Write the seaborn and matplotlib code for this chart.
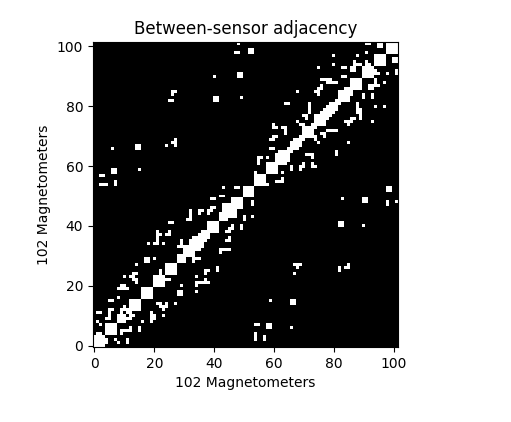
import numpy as np
import seaborn as sns
import matplotlib
matplotlib.use("Agg")
import matplotlib.pyplot as plt

n_sensors = 102
axis_label = "102 Magnetometers"
tick_values = [0, 20, 40, 60, 80, 100]

# runs of neighbouring sensors that are all connected (first, last)
sensor_groups = [(0, 3), (4, 7), (12, 15), (16, 19), (20, 23), (24, 27), (28, 30), (30, 33),
                 (34, 35), (36, 37), (38, 41), (42, 44), (46, 49), (50, 53), (54, 57),
                 (58, 61), (62, 65), (70, 73), (74, 77), (82, 85), (86, 89), (90, 93),
                 (94, 97), (98, 101)]

# single connections close to the diagonal
low_links = [(1, 4), (2, 4), (2, 7), (1, 8), (1, 11), (2, 11), (4, 9), (5, 9), (5, 10), (5, 11),
             (5, 12), (6, 12), (5, 15), (6, 15), (8, 9), (8, 10), (9, 10), (9, 11), (9, 12),
             (10, 12), (10, 13), (11, 12), (8, 16), (8, 19), (9, 19), (10, 19), (11, 19),
             (9, 20), (10, 20), (10, 23), (12, 23), (13, 23), (13, 22), (14, 22), (14, 21),
             (13, 24), (14, 24), (14, 27), (22, 24), (22, 25), (17, 28), (18, 28), (17, 29),
             (18, 29), (20, 29), (28, 33), (29, 33), (29, 34), (29, 35), (18, 34), (20, 34),
             (21, 34), (23, 34), (21, 35), (21, 36), (21, 37), (21, 38), (22, 37), (24, 37),
             (25, 37), (25, 38), (25, 41), (26, 41), (32, 34), (33, 34), (32, 35), (33, 35),
             (33, 36), (34, 36), (35, 36), (35, 37), (36, 38), (37, 38), (31, 42), (32, 42),
             (32, 43), (32, 44), (32, 45), (35, 44), (35, 45), (36, 45), (38, 44), (38, 45),
             (39, 45), (39, 46), (40, 46), (39, 49), (40, 49), (42, 50), (43, 50), (43, 45),
             (44, 45), (43, 46), (44, 46), (45, 46), (43, 47), (44, 47), (45, 47)]

high_links = [(54, 58), (55, 61), (55, 62), (55, 63), (56, 63), (58, 63), (61, 62), (61, 63),
              (61, 64), (59, 66), (60, 66), (59, 69), (60, 69), (60, 70), (61, 70), (60, 73),
              (61, 73), (60, 74), (63, 73), (64, 73), (64, 72), (64, 71), (64, 81), (65, 81),
              (65, 66), (66, 67), (66, 68), (67, 68), (67, 69), (68, 69), (69, 70), (73, 74),
              (68, 75), (69, 74), (70, 74), (70, 77), (71, 76), (71, 77), (72, 78), (72, 79),
              (72, 80), (72, 81), (76, 78), (77, 78), (77, 79), (78, 79), (78, 80), (79, 80),
              (79, 81), (80, 81), (81, 82), (68, 85), (74, 85), (75, 84), (75, 85), (75, 86),
              (76, 86), (76, 87), (75, 93), (76, 89), (77, 89), (78, 89), (79, 89), (78, 88),
              (79, 88), (80, 88), (81, 88), (80, 94), (80, 97), (83, 90), (84, 90), (83, 93),
              (84, 93), (84, 86), (85, 86), (86, 92), (87, 92), (86, 93), (87, 93), (87, 94),
              (87, 95), (88, 94), (89, 94), (88, 97), (91, 94), (91, 95), (92, 94), (91, 98),
              (91, 101), (92, 101), (95, 100), (96, 100), (95, 101), (96, 101)]

# connections far from the diagonal
far_links = [(2, 54), (3, 54), (4, 54), (2, 57), (3, 57), (7, 54), (7, 55), (6, 58), (6, 59),
             (7, 58), (7, 59), (15, 59), (6, 66), (14, 66), (14, 67), (15, 66), (15, 67),
             (24, 67), (27, 67), (26, 68), (27, 68), (27, 69), (25, 82), (26, 82), (40, 82),
             (41, 82), (40, 83), (41, 83), (49, 83), (26, 84), (26, 85), (27, 85), (40, 90),
             (48, 90), (49, 90), (48, 91), (49, 91), (47, 98), (48, 98), (48, 101), (43, 53),
             (47, 53), (48, 53), (44, 38), (45, 38), (49, 39), (49, 40), (52, 98), (53, 98),
             (52, 99), (53, 99)]


def build_adjacency():
    adj = np.eye(n_sensors)
    for first, last in sensor_groups:
        adj[first:last + 1, first:last + 1] = 1
    for a, b in low_links + high_links + far_links:
        adj[a, b] = 1
        adj[b, a] = 1
    return adj


fig = plt.figure(figsize=(5.11, 4.22), dpi=100)
ax = fig.add_axes([93 / 511, 75 / 422, 305 / 511, 305 / 422])

sns.heatmap(build_adjacency(), cmap="gray", vmin=0, vmax=1, cbar=False, ax=ax,
            xticklabels=False, yticklabels=False, rasterized=True)
ax.invert_yaxis()
ax.set_xticks([t + 0.5 for t in tick_values])
ax.set_xticklabels(tick_values, rotation=0)
ax.set_yticks([t + 0.5 for t in tick_values])
ax.set_yticklabels(tick_values, rotation=0)
ax.tick_params(length=3.5, width=0.8, labelsize=10)
for spine in ax.spines.values():
    spine.set_visible(True)
    spine.set_linewidth(0.8)

ax.set_xlabel(axis_label, fontsize=10)
ax.set_ylabel(axis_label, fontsize=10)
ax.set_title("Between-sensor adjacency", fontsize=12)

plt.savefig("out.png", dpi=100)
plt.close()
